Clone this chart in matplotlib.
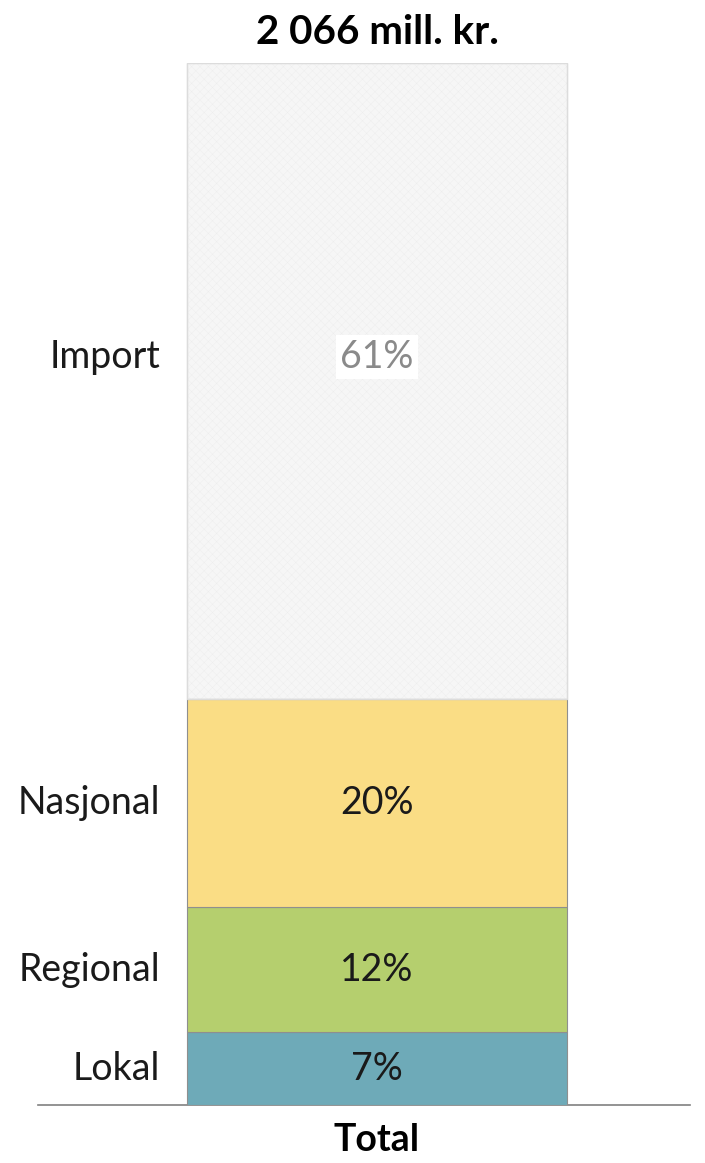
import matplotlib
matplotlib.use("Agg")
import matplotlib.pyplot as plt

plt.rcParams['font.family'] = ['Lato', 'DejaVu Sans']
plt.rcParams['hatch.linewidth'] = 0.3

# data
categories = ["Lokal", "Regional", "Nasjonal", "Import"]
shares = [7, 12, 20, 61]
bar_label = "Total"
title = "2 066 mill. kr."

colors = ["#6eaab8", "#b5cf6e", "#fadd85", "#f6f6f6"]
text_colors = ["#1a1a1a", "#1a1a1a", "#1a1a1a", "#8a8a8a"]

fig = plt.figure(figsize=(7.05, 11.63), dpi=100)
ax = fig.add_axes([38 / 705, 58 / 1163, 652 / 705, 1042 / 1163])

bottom = 0
for cat, val, col, tcol in zip(categories, shares, colors, text_colors):
    shift = 0
    if cat == "Import":
        ax.bar(0, val, width=1, bottom=bottom, color=col, edgecolor="#ededed",
               linewidth=1, hatch="xxxx", zorder=2)
        ax.bar(0, val, width=1, bottom=bottom, color="none", edgecolor="#dcdcdc",
               linewidth=1, zorder=3)
        bbox = dict(facecolor="white", edgecolor="none", pad=3)
        shift = 17  # label sits a bit above the middle in the original
    else:
        ax.bar(0, val, width=1, bottom=bottom, color=col, edgecolor="#8f8f8f",
               linewidth=0.8, zorder=3)
        bbox = None
    mid = bottom + val / 2
    ax.annotate(f"{val}%", (0, mid), xytext=(0, shift), textcoords="offset points",
                ha="center", va="center", fontsize=27, color=tcol, bbox=bbox, zorder=4)
    ax.annotate(cat, (-0.57, mid), xytext=(0, shift), textcoords="offset points",
                ha="right", va="center", fontsize=27, color="#1a1a1a")
    bottom += val

ax.set_xlim(-0.5 - 149 / 380, 0.5 + 123 / 380)
ax.set_ylim(0, 100)
ax.set_xticks([0])
ax.set_xticklabels([bar_label], fontsize=27, fontweight="bold")
ax.tick_params(axis="x", length=0, pad=13)
ax.set_yticks([])
for s in ["top", "left", "right"]:
    ax.spines[s].set_visible(False)
ax.spines["bottom"].set_color("#808080")
ax.spines["bottom"].set_linewidth(1.2)

fig.text(377 / 705, 1 - 32 / 1163, title, ha="center", va="center",
         fontsize=29, fontweight="bold")

fig.savefig("out.png", dpi=100)
